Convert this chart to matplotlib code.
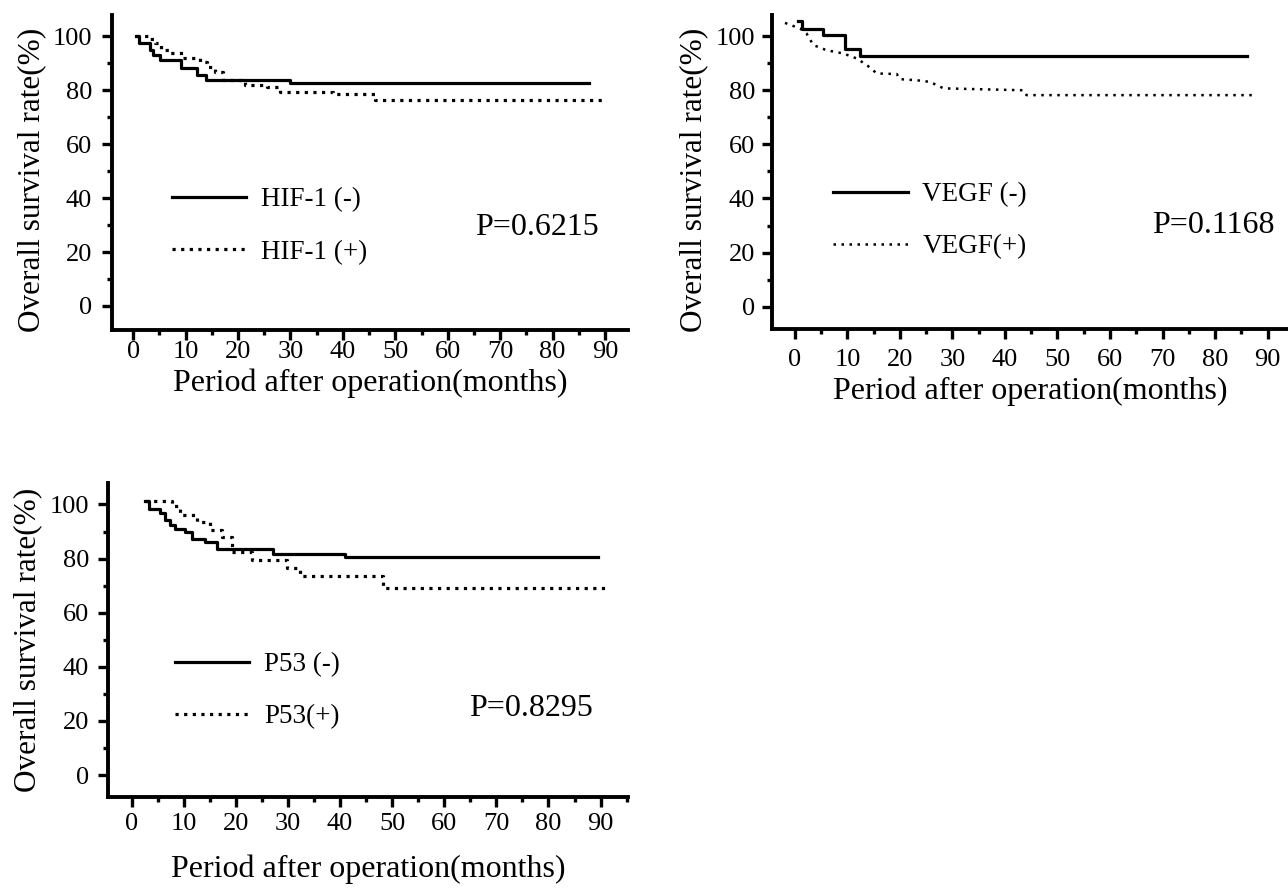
import matplotlib
matplotlib.use('Agg')
import matplotlib.pyplot as plt
from matplotlib import rcParams
from matplotlib.ticker import MultipleLocator

rcParams['font.family'] = ['Liberation Serif', 'DejaVu Serif']
rcParams['axes.linewidth'] = 2.8

# ---- data (months, survival %) ----
hif_neg_t = [0.5, 1.1, 3.2, 3.8, 5.2, 9.2, 12.1, 13.9, 30.0, 87.0]
hif_neg_s = [100, 97.3, 94.8, 93.0, 91.1, 88.0, 85.6, 83.7, 82.5, 82.5]
hif_pos_t = [0.5, 3.2, 4.1, 5.4, 7.0, 9.5, 12.7, 14.0, 15.6, 17.2, 21.3,
             25.5, 28.0, 38.2, 46.1, 89.6]
hif_pos_s = [100, 98.8, 97.3, 94.8, 93.6, 91.7, 90.5, 88.6, 86.8, 83.7, 81.9,
             81.0, 79.4, 78.5, 76.3, 76.3]

vegf_neg_t = [0.6, 1.3, 5.3, 9.5, 12.3, 86.0]
vegf_neg_s = [105.7, 102.8, 100.6, 95.1, 92.6, 92.6]
vegf_pos_t = [-1.9, 1.0, 2.2, 3.5, 6.0, 9.2, 11.7, 13.7, 15.6, 19.4, 20.0,
              23.2, 25.7, 28.3, 43.5, 44.1, 87.6]
vegf_pos_s = [104.9, 102.8, 101.0, 96.7, 94.8, 93.6, 91.8, 89.3, 86.2, 86.0,
              84.1, 83.7, 83.1, 80.7, 80.0, 78.2, 78.2]

p53_neg_t = [2.55, 3.4, 5.4, 6.4, 7.4, 8.3, 10.2, 11.5, 14.1, 16.3, 27.2,
             40.9, 89.6]
p53_neg_s = [101.3, 98.5, 96.7, 94.2, 92.4, 90.8, 89.9, 87.4, 86.2, 83.7,
             81.6, 80.6, 80.6]
p53_pos_t = [2.55, 7.7, 9.3, 12.5, 15.0, 17.3, 19.2, 23.0, 29.8, 32.3, 48.3,
             90.9]
p53_pos_s = [101.3, 99.4, 96.0, 93.6, 90.5, 87.8, 82.5, 79.4, 76.7, 73.6,
             69.3, 69.3]

p_values = ['P=0.6215', 'P=0.1168', 'P=0.8295']

XLABEL = 'Period after operation(months)'
YLABEL = 'Overall survival rate(%)'

fig = plt.figure(figsize=(12.88, 8.9), dpi=100)


def style(ax, xlim, ylim, ypad, xpad, xlabelpad, ylabel_y):
    ax.set_xlim(*xlim)
    ax.set_ylim(*ylim)
    ax.spines['top'].set_visible(False)
    ax.spines['right'].set_visible(False)
    ax.xaxis.set_major_locator(MultipleLocator(10))
    ax.xaxis.set_minor_locator(MultipleLocator(5))
    ax.yaxis.set_major_locator(MultipleLocator(20))
    ax.yaxis.set_minor_locator(MultipleLocator(10))
    ax.tick_params(which='major', length=7.5, width=2.4, labelsize=19)
    ax.tick_params(which='minor', length=3.5, width=2.4)
    ax.tick_params(axis='y', which='major', pad=ypad)
    ax.tick_params(axis='x', which='major', pad=xpad)
    ax.set_xlabel(XLABEL, fontsize=23, labelpad=xlabelpad)
    ax.set_ylabel(YLABEL, fontsize=22.5, labelpad=5, y=ylabel_y)


def legend(ax, lines, labels, anchor):
    ax.legend(lines, labels, loc='center left', bbox_to_anchor=anchor,
              frameon=False, fontsize=19.5, handlelength=2.75,
              handletextpad=0.55, labelspacing=1.0, borderpad=0,
              borderaxespad=0)


# ── HIF-1 ─────────────────────────────────────────────────────────────────────
ax1 = fig.add_axes([0.0867, 0.6292, 0.4010, 0.3539])
l1, = ax1.step(hif_neg_t, hif_neg_s, where='post', color='black', lw=2.3)
l2, = ax1.step(hif_pos_t, hif_pos_s, where='post', color='black', lw=2.3,
               linestyle=(0, (1, 1.7)))
style(ax1, (-4.1, 94.4), (-8.9, 107.8), 6.5, 0.5, 4, 0.476)
legend(ax1, [l1, l2], ['HIF-1 (-)', 'HIF-1 (+)'], (0.116, 0.330))
ax1.text(0.704, 0.324, p_values[0], transform=ax1.transAxes, fontsize=23,
         ha='left', va='center')

# ── VEGF ──────────────────────────────────────────────────────────────────────
ax2 = fig.add_axes([0.5991, 0.6300, 0.4009, 0.3531])
l3, = ax2.step(vegf_neg_t, vegf_neg_s, where='post', color='black', lw=2.3)
l4, = ax2.plot(vegf_pos_t, vegf_pos_s, color='black', lw=1.8,
               linestyle=(0, (1, 2.2)))
style(ax2, (-4.44, 93.9), (-8.35, 107.8), 4.5, 7, 4, 0.476)
legend(ax2, [l3, l4], ['VEGF (-)', 'VEGF(+)'], (0.119, 0.345))
ax2.text(0.736, 0.329, p_values[1], transform=ax2.transAxes, fontsize=23,
         ha='left', va='center')

# ── P53 ───────────────────────────────────────────────────────────────────────
ax3 = fig.add_axes([0.0841, 0.1048, 0.4036, 0.3521])
l5, = ax3.step(p53_neg_t, p53_neg_s, where='post', color='black', lw=2.3)
l6, = ax3.step(p53_pos_t, p53_pos_s, where='post', color='black', lw=2.3,
               linestyle=(0, (1, 1.7)))
style(ax3, (-4.5, 95.3), (-8.0, 107.8), 6.5, 4.5, 14, 0.5)
legend(ax3, [l5, l6], ['P53 (-)', 'P53(+)'], (0.128, 0.338))
ax3.text(0.694, 0.283, p_values[2], transform=ax3.transAxes, fontsize=23,
         ha='left', va='center')

fig.savefig('out.png', dpi=100)
